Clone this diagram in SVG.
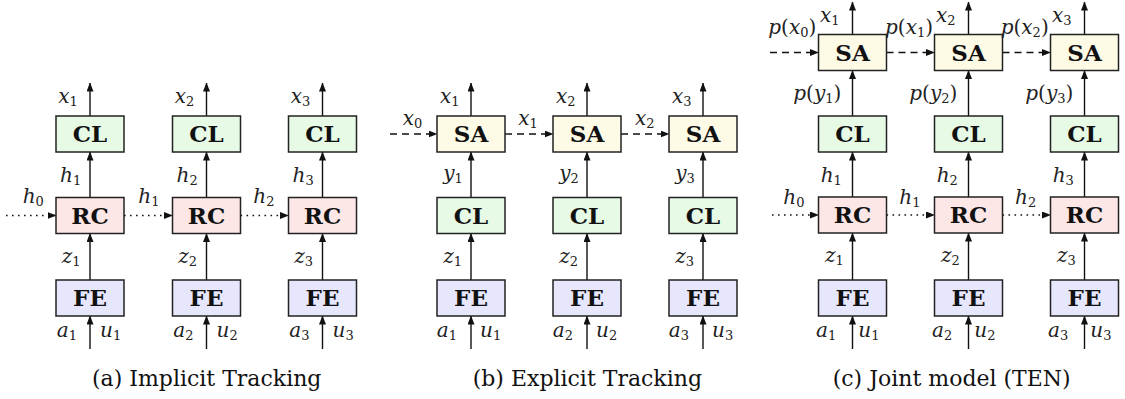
<svg xmlns="http://www.w3.org/2000/svg" width="1125" height="399" viewBox="0 0 1125 399" font-family="DejaVu Serif, serif">
<defs>
<marker id="ah" markerUnits="userSpaceOnUse" markerWidth="9" markerHeight="7" refX="8.5" refY="3.5" orient="auto">
<path d="M0,0 L9,3.5 L0,7 Z" fill="#111"/>
</marker>
</defs>
<style>
.box{stroke:#222;stroke-width:1.5}
.cl{fill:#e6fae6}.rc{fill:#fde6e6}.fe{fill:#e6e6fc}.sa{fill:#fdfbe6}
.bl{font-weight:bold;font-size:23px;text-anchor:middle;fill:#111}
.m{font-style:italic;font-size:20px;fill:#222}
.s{font-style:normal;font-size:13px}
.u{font-style:normal}
.cap{font-size:22px;fill:#111}
.c line{stroke:#111;stroke-width:1.4;marker-end:url(#ah)}
.c .dot{stroke-dasharray:1.6,4.4;stroke-width:1.6}
.c .dash{stroke-dasharray:7,5}
</style>
<rect width="1125" height="399" fill="#fff"/>

<g id="connectors" class="c">
<line x1="90" y1="349" x2="90" y2="316"/><line x1="90" y1="280" x2="90" y2="233.5"/><line x1="90" y1="197.5" x2="90" y2="152"/><line x1="90" y1="116" x2="90" y2="83"/>
<line x1="206.5" y1="349" x2="206.5" y2="316"/><line x1="206.5" y1="280" x2="206.5" y2="233.5"/><line x1="206.5" y1="197.5" x2="206.5" y2="152"/><line x1="206.5" y1="116" x2="206.5" y2="83"/>
<line x1="322.5" y1="349" x2="322.5" y2="316"/><line x1="322.5" y1="280" x2="322.5" y2="233.5"/><line x1="322.5" y1="197.5" x2="322.5" y2="152"/><line x1="322.5" y1="116" x2="322.5" y2="83"/>
<line class="dot" x1="6" y1="215.5" x2="56" y2="215.5"/><line class="dot" x1="124" y1="215.5" x2="172.5" y2="215.5"/><line class="dot" x1="240.5" y1="215.5" x2="288.5" y2="215.5"/>
<line x1="471" y1="349" x2="471" y2="316"/><line x1="471" y1="280" x2="471" y2="233.5"/><line x1="471" y1="197.5" x2="471" y2="152"/><line x1="471" y1="116" x2="471" y2="83"/>
<line x1="587" y1="349" x2="587" y2="316"/><line x1="587" y1="280" x2="587" y2="233.5"/><line x1="587" y1="197.5" x2="587" y2="152"/><line x1="587" y1="116" x2="587" y2="83"/>
<line x1="703" y1="349" x2="703" y2="316"/><line x1="703" y1="280" x2="703" y2="233.5"/><line x1="703" y1="197.5" x2="703" y2="152"/><line x1="703" y1="116" x2="703" y2="83"/>
<line class="dash" x1="390" y1="134" x2="437" y2="134"/><line class="dash" x1="505" y1="134" x2="553" y2="134"/><line class="dash" x1="621" y1="134" x2="669" y2="134"/>
<line x1="852.5" y1="349" x2="852.5" y2="316"/><line x1="852.5" y1="280" x2="852.5" y2="233"/><line x1="852.5" y1="197" x2="852.5" y2="152"/><line x1="852.5" y1="116" x2="852.5" y2="70.5"/><line x1="852.5" y1="34.5" x2="852.5" y2="2"/>
<line x1="968.5" y1="349" x2="968.5" y2="316"/><line x1="968.5" y1="280" x2="968.5" y2="233"/><line x1="968.5" y1="197" x2="968.5" y2="152"/><line x1="968.5" y1="116" x2="968.5" y2="70.5"/><line x1="968.5" y1="34.5" x2="968.5" y2="2"/>
<line x1="1084.5" y1="349" x2="1084.5" y2="316"/><line x1="1084.5" y1="280" x2="1084.5" y2="233"/><line x1="1084.5" y1="197" x2="1084.5" y2="152"/><line x1="1084.5" y1="116" x2="1084.5" y2="70.5"/><line x1="1084.5" y1="34.5" x2="1084.5" y2="2"/>
<line class="dash" x1="770" y1="52.5" x2="818.5" y2="52.5"/><line class="dash" x1="886.5" y1="52.5" x2="934.5" y2="52.5"/><line class="dash" x1="1002.5" y1="52.5" x2="1050.5" y2="52.5"/>
<line class="dot" x1="772" y1="215" x2="818.5" y2="215"/><line class="dot" x1="886.5" y1="215" x2="934.5" y2="215"/><line class="dot" x1="1002.5" y1="215" x2="1050.5" y2="215"/>
</g>

<g id="a-CL1"><rect class="box cl" x="56" y="116" width="68" height="36"/><text class="bl" x="90" y="142.4">CL</text></g>
<g id="a-CL2"><rect class="box cl" x="172.5" y="116" width="68" height="36"/><text class="bl" x="206.5" y="142.4">CL</text></g>
<g id="a-CL3"><rect class="box cl" x="288.5" y="116" width="68" height="36"/><text class="bl" x="322.5" y="142.4">CL</text></g>
<g id="a-RC1"><rect class="box rc" x="56" y="197.5" width="68" height="36"/><text class="bl" x="90" y="223.9">RC</text></g>
<g id="a-RC2"><rect class="box rc" x="172.5" y="197.5" width="68" height="36"/><text class="bl" x="206.5" y="223.9">RC</text></g>
<g id="a-RC3"><rect class="box rc" x="288.5" y="197.5" width="68" height="36"/><text class="bl" x="322.5" y="223.9">RC</text></g>
<g id="a-FE1"><rect class="box fe" x="56" y="280" width="68" height="36"/><text class="bl" x="90" y="306.4">FE</text></g>
<g id="a-FE2"><rect class="box fe" x="172.5" y="280" width="68" height="36"/><text class="bl" x="206.5" y="306.4">FE</text></g>
<g id="a-FE3"><rect class="box fe" x="288.5" y="280" width="68" height="36"/><text class="bl" x="322.5" y="306.4">FE</text></g>

<g id="b-SA1"><rect class="box sa" x="437" y="116" width="68" height="36"/><text class="bl" x="471" y="142.4">SA</text></g>
<g id="b-SA2"><rect class="box sa" x="553" y="116" width="68" height="36"/><text class="bl" x="587" y="142.4">SA</text></g>
<g id="b-SA3"><rect class="box sa" x="669" y="116" width="68" height="36"/><text class="bl" x="703" y="142.4">SA</text></g>
<g id="b-CL1"><rect class="box cl" x="437" y="197.5" width="68" height="36"/><text class="bl" x="471" y="223.9">CL</text></g>
<g id="b-CL2"><rect class="box cl" x="553" y="197.5" width="68" height="36"/><text class="bl" x="587" y="223.9">CL</text></g>
<g id="b-CL3"><rect class="box cl" x="669" y="197.5" width="68" height="36"/><text class="bl" x="703" y="223.9">CL</text></g>
<g id="b-FE1"><rect class="box fe" x="437" y="280" width="68" height="36"/><text class="bl" x="471" y="306.4">FE</text></g>
<g id="b-FE2"><rect class="box fe" x="553" y="280" width="68" height="36"/><text class="bl" x="587" y="306.4">FE</text></g>
<g id="b-FE3"><rect class="box fe" x="669" y="280" width="68" height="36"/><text class="bl" x="703" y="306.4">FE</text></g>

<g id="c-SA1"><rect class="box sa" x="818.5" y="34.5" width="68" height="36"/><text class="bl" x="852.5" y="60.9">SA</text></g>
<g id="c-SA2"><rect class="box sa" x="934.5" y="34.5" width="68" height="36"/><text class="bl" x="968.5" y="60.9">SA</text></g>
<g id="c-SA3"><rect class="box sa" x="1050.5" y="34.5" width="68" height="36"/><text class="bl" x="1084.5" y="60.9">SA</text></g>
<g id="c-CL1"><rect class="box cl" x="818.5" y="116" width="68" height="36"/><text class="bl" x="852.5" y="142.4">CL</text></g>
<g id="c-CL2"><rect class="box cl" x="934.5" y="116" width="68" height="36"/><text class="bl" x="968.5" y="142.4">CL</text></g>
<g id="c-CL3"><rect class="box cl" x="1050.5" y="116" width="68" height="36"/><text class="bl" x="1084.5" y="142.4">CL</text></g>
<g id="c-RC1"><rect class="box rc" x="818.5" y="197" width="68" height="36"/><text class="bl" x="852.5" y="223.4">RC</text></g>
<g id="c-RC2"><rect class="box rc" x="934.5" y="197" width="68" height="36"/><text class="bl" x="968.5" y="223.4">RC</text></g>
<g id="c-RC3"><rect class="box rc" x="1050.5" y="197" width="68" height="36"/><text class="bl" x="1084.5" y="223.4">RC</text></g>
<g id="c-FE1"><rect class="box fe" x="818.5" y="280" width="68" height="36"/><text class="bl" x="852.5" y="306.4">FE</text></g>
<g id="c-FE2"><rect class="box fe" x="934.5" y="280" width="68" height="36"/><text class="bl" x="968.5" y="306.4">FE</text></g>
<g id="c-FE3"><rect class="box fe" x="1050.5" y="280" width="68" height="36"/><text class="bl" x="1084.5" y="306.4">FE</text></g>

<g id="labels">
<text class="m" x="58.3" y="103.3">x<tspan class="s" dy="3">1</tspan></text>
<text class="m" x="174.8" y="103.3">x<tspan class="s" dy="3">2</tspan></text>
<text class="m" x="290.8" y="103.3">x<tspan class="s" dy="3">3</tspan></text>
<text class="m" x="60" y="181.7">h<tspan class="s" dy="3">1</tspan></text>
<text class="m" x="176.5" y="181.7">h<tspan class="s" dy="3">2</tspan></text>
<text class="m" x="292.5" y="181.7">h<tspan class="s" dy="3">3</tspan></text>
<text class="m" x="61.7" y="262.7">z<tspan class="s" dy="3">1</tspan></text>
<text class="m" x="178.2" y="262.7">z<tspan class="s" dy="3">2</tspan></text>
<text class="m" x="294.2" y="262.7">z<tspan class="s" dy="3">3</tspan></text>
<text class="m" x="56.7" y="336.7">a<tspan class="s" dy="3">1</tspan></text>
<text class="m" x="173.2" y="336.7">a<tspan class="s" dy="3">2</tspan></text>
<text class="m" x="289.2" y="336.7">a<tspan class="s" dy="3">3</tspan></text>
<text class="m" x="100" y="336.7">u<tspan class="s" dy="3">1</tspan></text>
<text class="m" x="216.5" y="336.7">u<tspan class="s" dy="3">2</tspan></text>
<text class="m" x="332.5" y="336.7">u<tspan class="s" dy="3">3</tspan></text>
<text class="m" x="22.7" y="203.3">h<tspan class="s" dy="3">0</tspan></text>
<text class="m" x="138.3" y="203.3">h<tspan class="s" dy="3">1</tspan></text>
<text class="m" x="253.3" y="203.3">h<tspan class="s" dy="3">2</tspan></text>
<text class="m" x="440" y="103.3">x<tspan class="s" dy="3">1</tspan></text>
<text class="m" x="556" y="103.3">x<tspan class="s" dy="3">2</tspan></text>
<text class="m" x="672" y="103.3">x<tspan class="s" dy="3">3</tspan></text>
<text class="m" x="443.3" y="180">y<tspan class="s" dy="3">1</tspan></text>
<text class="m" x="559.3" y="180">y<tspan class="s" dy="3">2</tspan></text>
<text class="m" x="675.3" y="180">y<tspan class="s" dy="3">3</tspan></text>
<text class="m" x="443.3" y="262.7">z<tspan class="s" dy="3">1</tspan></text>
<text class="m" x="559.3" y="262.7">z<tspan class="s" dy="3">2</tspan></text>
<text class="m" x="675.3" y="262.7">z<tspan class="s" dy="3">3</tspan></text>
<text class="m" x="436.7" y="336.7">a<tspan class="s" dy="3">1</tspan></text>
<text class="m" x="552.7" y="336.7">a<tspan class="s" dy="3">2</tspan></text>
<text class="m" x="668.7" y="336.7">a<tspan class="s" dy="3">3</tspan></text>
<text class="m" x="480" y="336.7">u<tspan class="s" dy="3">1</tspan></text>
<text class="m" x="596" y="336.7">u<tspan class="s" dy="3">2</tspan></text>
<text class="m" x="712" y="336.7">u<tspan class="s" dy="3">3</tspan></text>
<text class="m" x="402.7" y="125">x<tspan class="s" dy="3">0</tspan></text>
<text class="m" x="518.3" y="125">x<tspan class="s" dy="3">1</tspan></text>
<text class="m" x="635" y="125">x<tspan class="s" dy="3">2</tspan></text>
<text class="m" x="820" y="21.7">x<tspan class="s" dy="3">1</tspan></text>
<text class="m" x="936" y="21.7">x<tspan class="s" dy="3">2</tspan></text>
<text class="m" x="1052" y="21.7">x<tspan class="s" dy="3">3</tspan></text>
<text class="m" x="768.3" y="33.5">p<tspan class="u">(</tspan>x<tspan class="s" dy="3">0</tspan><tspan class="u" dy="-3">)</tspan></text>
<text class="m" x="885" y="33.5">p<tspan class="u">(</tspan>x<tspan class="s" dy="3">1</tspan><tspan class="u" dy="-3">)</tspan></text>
<text class="m" x="1000.7" y="33.5">p<tspan class="u">(</tspan>x<tspan class="s" dy="3">2</tspan><tspan class="u" dy="-3">)</tspan></text>
<text class="m" x="793.3" y="100">p<tspan class="u">(</tspan>y<tspan class="s" dy="3">1</tspan><tspan class="u" dy="-3">)</tspan></text>
<text class="m" x="909.3" y="100">p<tspan class="u">(</tspan>y<tspan class="s" dy="3">2</tspan><tspan class="u" dy="-3">)</tspan></text>
<text class="m" x="1025.3" y="100">p<tspan class="u">(</tspan>y<tspan class="s" dy="3">3</tspan><tspan class="u" dy="-3">)</tspan></text>
<text class="m" x="820.7" y="182">h<tspan class="s" dy="3">1</tspan></text>
<text class="m" x="936.7" y="182">h<tspan class="s" dy="3">2</tspan></text>
<text class="m" x="1052.7" y="182">h<tspan class="s" dy="3">3</tspan></text>
<text class="m" x="783.3" y="204">h<tspan class="s" dy="3">0</tspan></text>
<text class="m" x="899.3" y="204">h<tspan class="s" dy="3">1</tspan></text>
<text class="m" x="1015" y="204">h<tspan class="s" dy="3">2</tspan></text>
<text class="m" x="825" y="262">z<tspan class="s" dy="3">1</tspan></text>
<text class="m" x="941" y="262">z<tspan class="s" dy="3">2</tspan></text>
<text class="m" x="1057" y="262">z<tspan class="s" dy="3">3</tspan></text>
<text class="m" x="816" y="336.7">a<tspan class="s" dy="3">1</tspan></text>
<text class="m" x="932" y="336.7">a<tspan class="s" dy="3">2</tspan></text>
<text class="m" x="1048" y="336.7">a<tspan class="s" dy="3">3</tspan></text>
<text class="m" x="858.3" y="336.7">u<tspan class="s" dy="3">1</tspan></text>
<text class="m" x="974.3" y="336.7">u<tspan class="s" dy="3">2</tspan></text>
<text class="m" x="1090.3" y="336.7">u<tspan class="s" dy="3">3</tspan></text>
</g>

<g id="captions">
<text class="cap" x="92" y="386">(a) Implicit Tracking</text>
<text class="cap" x="472.7" y="386">(b) Explicit Tracking</text>
<text class="cap" x="832.7" y="386">(c) Joint model (TEN)</text>
</g>
</svg>
